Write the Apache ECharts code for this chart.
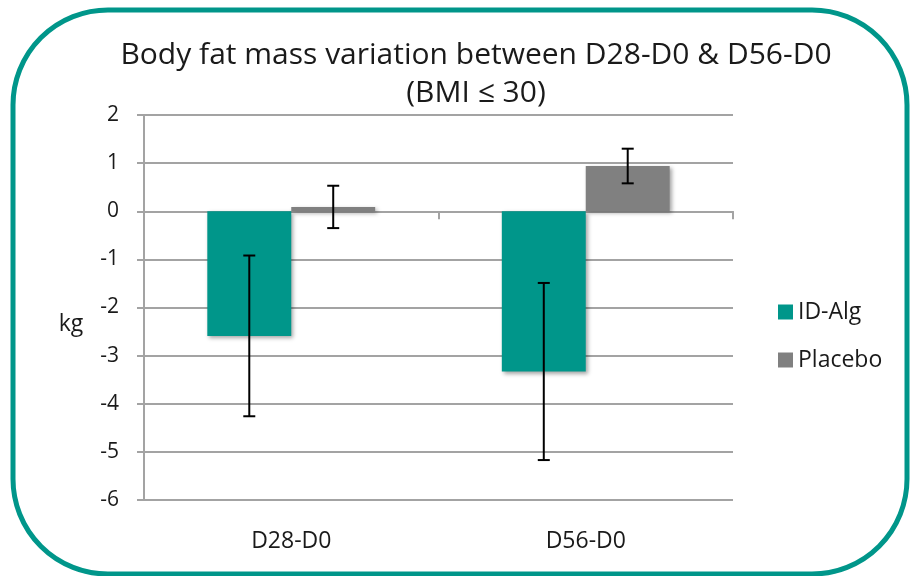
<!DOCTYPE html>
<html>
<head>
<meta charset="utf-8">
<title>Body fat mass variation</title>
<script src="https://cdn.jsdelivr.net/npm/echarts@6/dist/echarts.min.js"></script>
<style>
  html, body { margin: 0; padding: 0; background: #ffffff; }
  #chart { width: 913px; height: 576px; }
</style>
</head>
<body>
<div id="chart"></div>
<script>
// Time windows on the category axis
const categories = ['D28-D0', 'D56-D0'];
// Mean change in body fat mass (kg) and its error (±)
const idAlgValues = [-2.59, -3.33];
const idAlgErrors = [1.67, 1.84];
const placeboValues = [0.09, 0.94];
const placeboErrors = [0.44, 0.36];
// Value axis range
const yMin = -6;
const yMax = 2;
const yStep = 1;

const TEAL = '#00968a';
const GREY = '#808080';
const TEXT = '#1a1a1a';
const GRID = '#a3a3a3';
const FONT = '"Open Sans", "Noto Sans", sans-serif';

// share of a category slot taken by one bar, and each bar's centre offset
const BAR_SHARE = 0.285;
const OFFSETS = [-BAR_SHARE / 2, BAR_SHARE / 2];

function errorSeries(values, errors, offsetShare) {
  return {
    type: 'custom',
    xAxisIndex: 0,
    yAxisIndex: 0,
    z: 5,
    silent: true,
    data: values.map((v, i) => [i, v, errors[i]]),
    renderItem(params, api) {
      const ci = api.value(0);
      const v = api.value(1);
      const e = api.value(2);
      const catW = api.size([1, 0])[0];
      const hi = api.coord([ci, v + e]);
      const lo = api.coord([ci, v - e]);
      const x = hi[0] + offsetShare * catW;
      const cap = 6;
      const style = { stroke: '#000000', lineWidth: 2 };
      return {
        type: 'group',
        children: [
          { type: 'line', shape: { x1: x, y1: hi[1], x2: x, y2: lo[1] }, style },
          { type: 'line', shape: { x1: x - cap, y1: hi[1], x2: x + cap, y2: hi[1] }, style },
          { type: 'line', shape: { x1: x - cap, y1: lo[1], x2: x + cap, y2: lo[1] }, style }
        ]
      };
    }
  };
}

const barShadow = {
  shadowColor: 'rgba(0,0,0,0.35)',
  shadowBlur: 4,
  shadowOffsetX: 2,
  shadowOffsetY: 2
};

const chart = echarts.init(document.getElementById('chart'), null, { renderer: 'canvas' });

chart.setOption({
  animation: false,
  backgroundColor: '#ffffff',
  title: {
    text: 'Body fat mass variation between D28-D0 & D56-D0\n(BMI ≤ 30)',
    left: 471,
    top: 31,
    textAlign: 'center',
    textStyle: {
      fontFamily: FONT,
      fontSize: 30,
      fontWeight: 'normal',
      color: TEXT,
      lineHeight: 38
    }
  },
  legend: {
    orient: 'vertical',
    left: 778,
    top: 300,
    padding: 0,
    icon: 'rect',
    itemWidth: 15,
    itemHeight: 15,
    itemGap: 24,
    textStyle: { fontFamily: FONT, fontSize: 23, color: TEXT, lineHeight: 24 },
    data: ['ID-Alg', 'Placebo']
  },
  grid: { left: 144, right: 180, top: 115, bottom: 76, containLabel: false },
  xAxis: [
    {
      type: 'category',
      data: categories,
      position: 'bottom',
      axisLine: { show: true, onZero: true, lineStyle: { color: GRID, width: 2 } },
      axisTick: { show: true, length: 8, lineStyle: { color: GRID, width: 2 } },
      axisLabel: { show: false },
      splitLine: { show: false }
    },
    {
      type: 'category',
      data: categories,
      position: 'bottom',
      axisLine: { show: false, onZero: false },
      axisTick: { show: false },
      axisLabel: {
        show: true,
        margin: 30,
        fontFamily: FONT,
        fontSize: 23,
        color: TEXT
      },
      splitLine: { show: false }
    }
  ],
  yAxis: {
    type: 'value',
    min: yMin,
    max: yMax,
    interval: yStep,
    axisLine: { show: true, lineStyle: { color: GRID, width: 2 } },
    axisTick: { show: true, length: 7, lineStyle: { color: GRID, width: 2 } },
    axisLabel: { margin: 25, fontFamily: FONT, fontSize: 21, color: TEXT },
    splitLine: { show: true, lineStyle: { color: GRID, width: 2 } }
  },
  series: [
    {
      name: 'ID-Alg',
      type: 'bar',
      xAxisIndex: 0,
      data: idAlgValues,
      barWidth: (BAR_SHARE * 100) + '%',
      barGap: '0%',
      itemStyle: Object.assign({ color: TEAL }, barShadow),
      z: 3
    },
    {
      name: 'Placebo',
      type: 'bar',
      xAxisIndex: 0,
      data: placeboValues,
      barWidth: (BAR_SHARE * 100) + '%',
      barGap: '0%',
      itemStyle: Object.assign({ color: GREY }, barShadow),
      z: 3
    },
    errorSeries(idAlgValues, idAlgErrors, OFFSETS[0]),
    errorSeries(placeboValues, placeboErrors, OFFSETS[1])
  ],
  graphic: [
    {
      type: 'text',
      x: 71,
      y: 324,
      style: {
        text: 'kg',
        fontFamily: FONT,
        fontSize: 23,
        fill: TEXT,
        textAlign: 'center',
        textVerticalAlign: 'middle'
      }
    },
    {
      type: 'rect',
      silent: true,
      z: 100,
      shape: { x: 13, y: 10, width: 894, height: 564, r: 95 },
      style: { fill: 'none', stroke: TEAL, lineWidth: 5 }
    }
  ]
});
</script>
</body>
</html>
